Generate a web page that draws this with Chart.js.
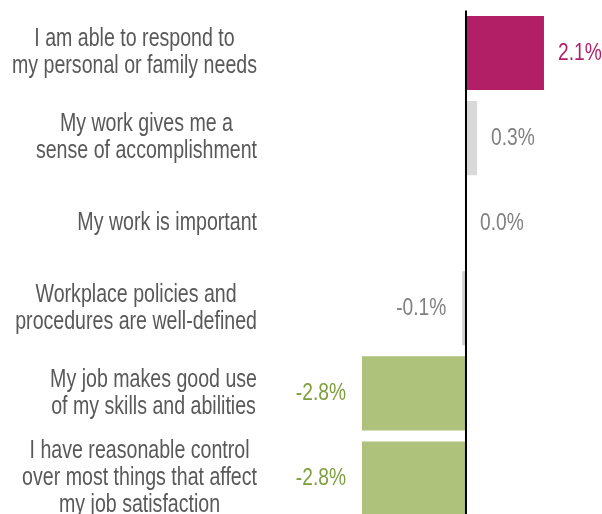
<!DOCTYPE html>
<html>
<head>
<meta charset="utf-8">
<script src="https://cdn.jsdelivr.net/npm/chart.js@4/dist/chart.umd.min.js"></script>
<style>
  html, body { margin: 0; padding: 0; background: #fff; overflow: hidden; }
  body { width: 602px; height: 514px; }
  #wrap { position: relative; width: 602px; height: 521px; }
</style>
</head>
<body>
<div id="wrap"><canvas id="chart"></canvas></div>
<script>
// Statements and their change in agreement (percentage points)
const categories = [
  ["I am able to respond to", "my personal or family needs"],
  ["My work gives me a", "sense of accomplishment"],
  ["My work is important"],
  ["Workplace policies and", "procedures are well-defined"],
  ["My job makes good use", "of my skills and abilities"],
  ["I have reasonable control", "over most things that affect", "my job satisfaction"]
];
const changes = [2.1, 0.3, 0.0, -0.1, -2.8, -2.8];
const valueLabels = ["2.1%", "0.3%", "0.0%", "-0.1%", "-2.8%", "-2.8%"];

const barColors = ["#B31F66", "#D9D9D9", "#D9D9D9", "#D0D0D0", "#AEC27B", "#AEC27B"];
const labelColors = ["#B31F66", "#808080", "#808080", "#808080", "#7E9E3E", "#7E9E3E"];

const FONT = "'Liberation Sans', Arial, sans-serif";
const TEXT_STRETCH = 1.27; // tall, condensed lettering

function tallText(ctx, text, x, y) {
  ctx.save();
  ctx.translate(x, y);
  ctx.scale(1, TEXT_STRETCH);
  ctx.fillText(text, 0, 0);
  ctx.restore();
}

// Draws the zero line, the multi-line category labels and the value labels
const annotate = {
  id: "annotate",
  afterDatasetsDraw(chart) {
    const ctx = chart.ctx;
    const x = chart.scales.x, y = chart.scales.y;
    const area = chart.chartArea;
    const zx = x.getPixelForValue(0);

    ctx.save();
    ctx.strokeStyle = "#000";
    ctx.lineWidth = 2;
    ctx.beginPath();
    ctx.moveTo(zx, area.top);
    ctx.lineTo(zx, area.bottom + 10);
    ctx.stroke();

    // category labels: block right-aligned, lines centred within the block
    ctx.font = "19.6px " + FONT;
    ctx.fillStyle = "#595959";
    ctx.textAlign = "center";
    ctx.textBaseline = "middle";
    const rightEdge = 257;
    const lineH = 27;
    categories.forEach((lines, i) => {
      const cy = y.getPixelForValue(i);
      const w = Math.max(...lines.map(l => ctx.measureText(l).width));
      const cx = rightEdge - w / 2;
      const top = cy - (lines.length - 1) * lineH / 2;
      lines.forEach((l, j) => tallText(ctx, l, cx, top + j * lineH));
    });

    // value labels beside each bar
    ctx.font = "19.2px " + FONT;
    changes.forEach((v, i) => {
      const cy = y.getPixelForValue(i);
      const end = x.getPixelForValue(v);
      ctx.fillStyle = labelColors[i];
      if (v >= 0) {
        ctx.textAlign = "left";
        tallText(ctx, valueLabels[i], Math.max(end, zx) + 14, cy);
      } else {
        ctx.textAlign = "right";
        tallText(ctx, valueLabels[i], end - 16, cy);
      }
    });
    ctx.restore();
  }
};

new Chart(document.getElementById("chart"), {
  type: "bar",
  data: {
    labels: categories,
    datasets: [{
      data: changes,
      backgroundColor: barColors,
      borderWidth: 0,
      barPercentage: 0.87,
      categoryPercentage: 1.0
    }]
  },
  options: {
    indexAxis: "y",
    responsive: true,
    maintainAspectRatio: false,
    animation: false,
    layout: { padding: { left: 317.4, right: 2.3, top: 10.5, bottom: 0 } },
    plugins: { legend: { display: false }, tooltip: { enabled: false } },
    scales: {
      x: { min: -4, max: 3.6, display: false },
      y: { display: false }
    }
  },
  plugins: [annotate]
});
</script>
</body>
</html>
